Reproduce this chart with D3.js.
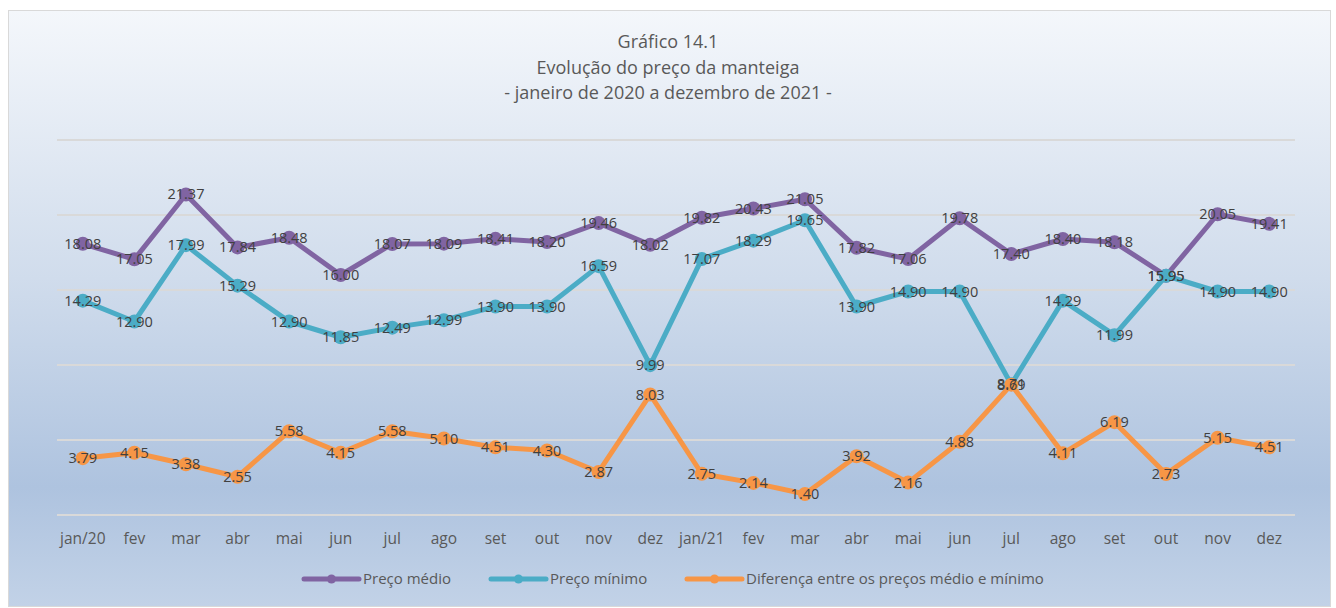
<!DOCTYPE html>
<html>
<head>
<meta charset="utf-8">
<script src="https://cdn.jsdelivr.net/npm/d3@7"></script>
<style>
	body { margin: 0; background: #fff; }
	text { font-family: "Open Sans", sans-serif; }
</style>
</head>
<body>
<svg id="chart" width="1336" height="608"></svg>
<script>
var months = ["jan/20", "fev", "mar", "abr", "mai", "jun", "jul", "ago", "set", "out", "nov", "dez",
	"jan/21", "fev", "mar", "abr", "mai", "jun", "jul", "ago", "set", "out", "nov", "dez"];
var precoMedio = [18.08, 17.05, 21.37, 17.84, 18.48, 16.00, 18.07, 18.09, 18.41, 18.20, 19.46, 18.02,
	19.82, 20.43, 21.05, 17.82, 17.06, 19.78, 17.40, 18.40, 18.18, 15.95, 20.05, 19.41];
var precoMinimo = [14.29, 12.90, 17.99, 15.29, 12.90, 11.85, 12.49, 12.99, 13.90, 13.90, 16.59, 9.99,
	17.07, 18.29, 19.65, 13.90, 14.90, 14.90, 8.71, 14.29, 11.99, 15.95, 14.90, 14.90];
var diferenca = [3.79, 4.15, 3.38, 2.55, 5.58, 4.15, 5.58, 5.10, 4.51, 4.30, 2.87, 8.03,
	2.75, 2.14, 1.40, 3.92, 2.16, 4.88, 8.69, 4.11, 6.19, 2.73, 5.15, 4.51];
var titleLines = ["Gráfico 14.1", "Evolução do preço da manteiga", "- janeiro de 2020 a dezembro de 2021 -"];
var yTicks = [0, 5, 10, 15, 20, 25];

var series = [
	{ name: "Preço médio", values: precoMedio, color: "#8064a2" },
	{ name: "Preço mínimo", values: precoMinimo, color: "#4bacc6" },
	{ name: "Diferença entre os preços médio e mínimo", values: diferenca, color: "#f79646" }
];

var svg = d3.select("#chart");

// background gradient
var defs = svg.append("defs");
var grad = defs.append("linearGradient")
	.attr("id", "bg")
	.attr("x1", 0).attr("y1", 0).attr("x2", 0).attr("y2", 1);
grad.append("stop").attr("offset", "0%").attr("stop-color", "#f4f7fb");
grad.append("stop").attr("offset", "45%").attr("stop-color", "#d0dcec");
grad.append("stop").attr("offset", "80%").attr("stop-color", "#aec3df");
grad.append("stop").attr("offset", "100%").attr("stop-color", "#c2d2e7");

svg.append("rect")
	.attr("x", 8.5).attr("y", 10.5)
	.attr("width", 1322).attr("height", 596)
	.attr("fill", "url(#bg)")
	.attr("stroke", "#d9d9d9")
	.attr("stroke-width", 1);

var x = d3.scaleBand()
	.domain(d3.range(months.length))
	.range([57, 1295]);

var y = d3.scaleLinear()
	.domain([0, 25])
	.range([515, 140]);

// gridlines
svg.append("g")
	.attr("class", "grid")
	.selectAll("line")
	.data(yTicks)
	.enter()
	.append("line")
	.attr("x1", 57).attr("x2", 1295)
	.attr("y1", (d) => y(d)).attr("y2", (d) => y(d))
	.attr("stroke", "#d9d9d9")
	.attr("stroke-width", 2);

// title
svg.append("g")
	.selectAll("text")
	.data(titleLines)
	.enter()
	.append("text")
	.attr("x", 668)
	.attr("y", (d, i) => 48 + i * 25.5)
	.attr("text-anchor", "middle")
	.attr("font-size", 18)
	.attr("fill", "#595959")
	.text((d) => d);

// x axis labels
var xAxis = d3.axisBottom(x)
	.tickFormat((i) => months[i])
	.tickSize(0)
	.tickPadding(18);
var gx = svg.append("g")
	.attr("transform", "translate(0,515)")
	.call(xAxis);
gx.select(".domain").remove();
gx.selectAll("text")
	.attr("font-family", "Open Sans, sans-serif")
	.attr("font-size", 15.5)
	.attr("fill", "#595959");

var cx = (d, i) => x(i) + x.bandwidth() / 2;

var line = d3.line()
	.x((d, i) => cx(d, i))
	.y((d) => y(d));

var groups = svg.selectAll(".series")
	.data(series)
	.enter()
	.append("g")
	.attr("class", "series");

groups.append("path")
	.attr("d", (s) => line(s.values))
	.attr("fill", "none")
	.attr("stroke", (s) => s.color)
	.attr("stroke-width", 5)
	.attr("stroke-linejoin", "round");

groups.selectAll("circle")
	.data((s) => s.values.map((v) => ({ v: v, color: s.color })))
	.enter()
	.append("circle")
	.attr("cx", cx)
	.attr("cy", (d) => y(d.v))
	.attr("r", 7)
	.attr("fill", (d) => d.color);

// data labels go on top of every line
var labels = svg.selectAll(".labels")
	.data(series)
	.enter()
	.append("g")
	.attr("class", "labels");

labels.selectAll("text")
	.data((s) => s.values)
	.enter()
	.append("text")
	.attr("x", cx)
	.attr("y", (d) => y(d) + 5)
	.attr("text-anchor", "middle")
	.attr("font-size", 14.5)
	.attr("fill", "#404040")
	.text((d) => d3.format(".2f")(d));

// legend
var legendX = [304, 491, 687];
var legend = svg.append("g")
	.selectAll("g")
	.data(series)
	.enter()
	.append("g")
	.attr("transform", (d, i) => "translate(" + legendX[i] + ",579)");
legend.append("line")
	.attr("x1", 0).attr("x2", 55)
	.attr("stroke", (d) => d.color)
	.attr("stroke-width", 5)
	.attr("stroke-linecap", "round");
legend.append("circle")
	.attr("cx", 27.5).attr("r", 4.5)
	.attr("fill", (d) => d.color);
legend.append("text")
	.attr("x", 59)
	.attr("y", 5)
	.attr("font-size", 15)
	.attr("fill", "#595959")
	.text((d) => d.name);
</script>
</body>
</html>
